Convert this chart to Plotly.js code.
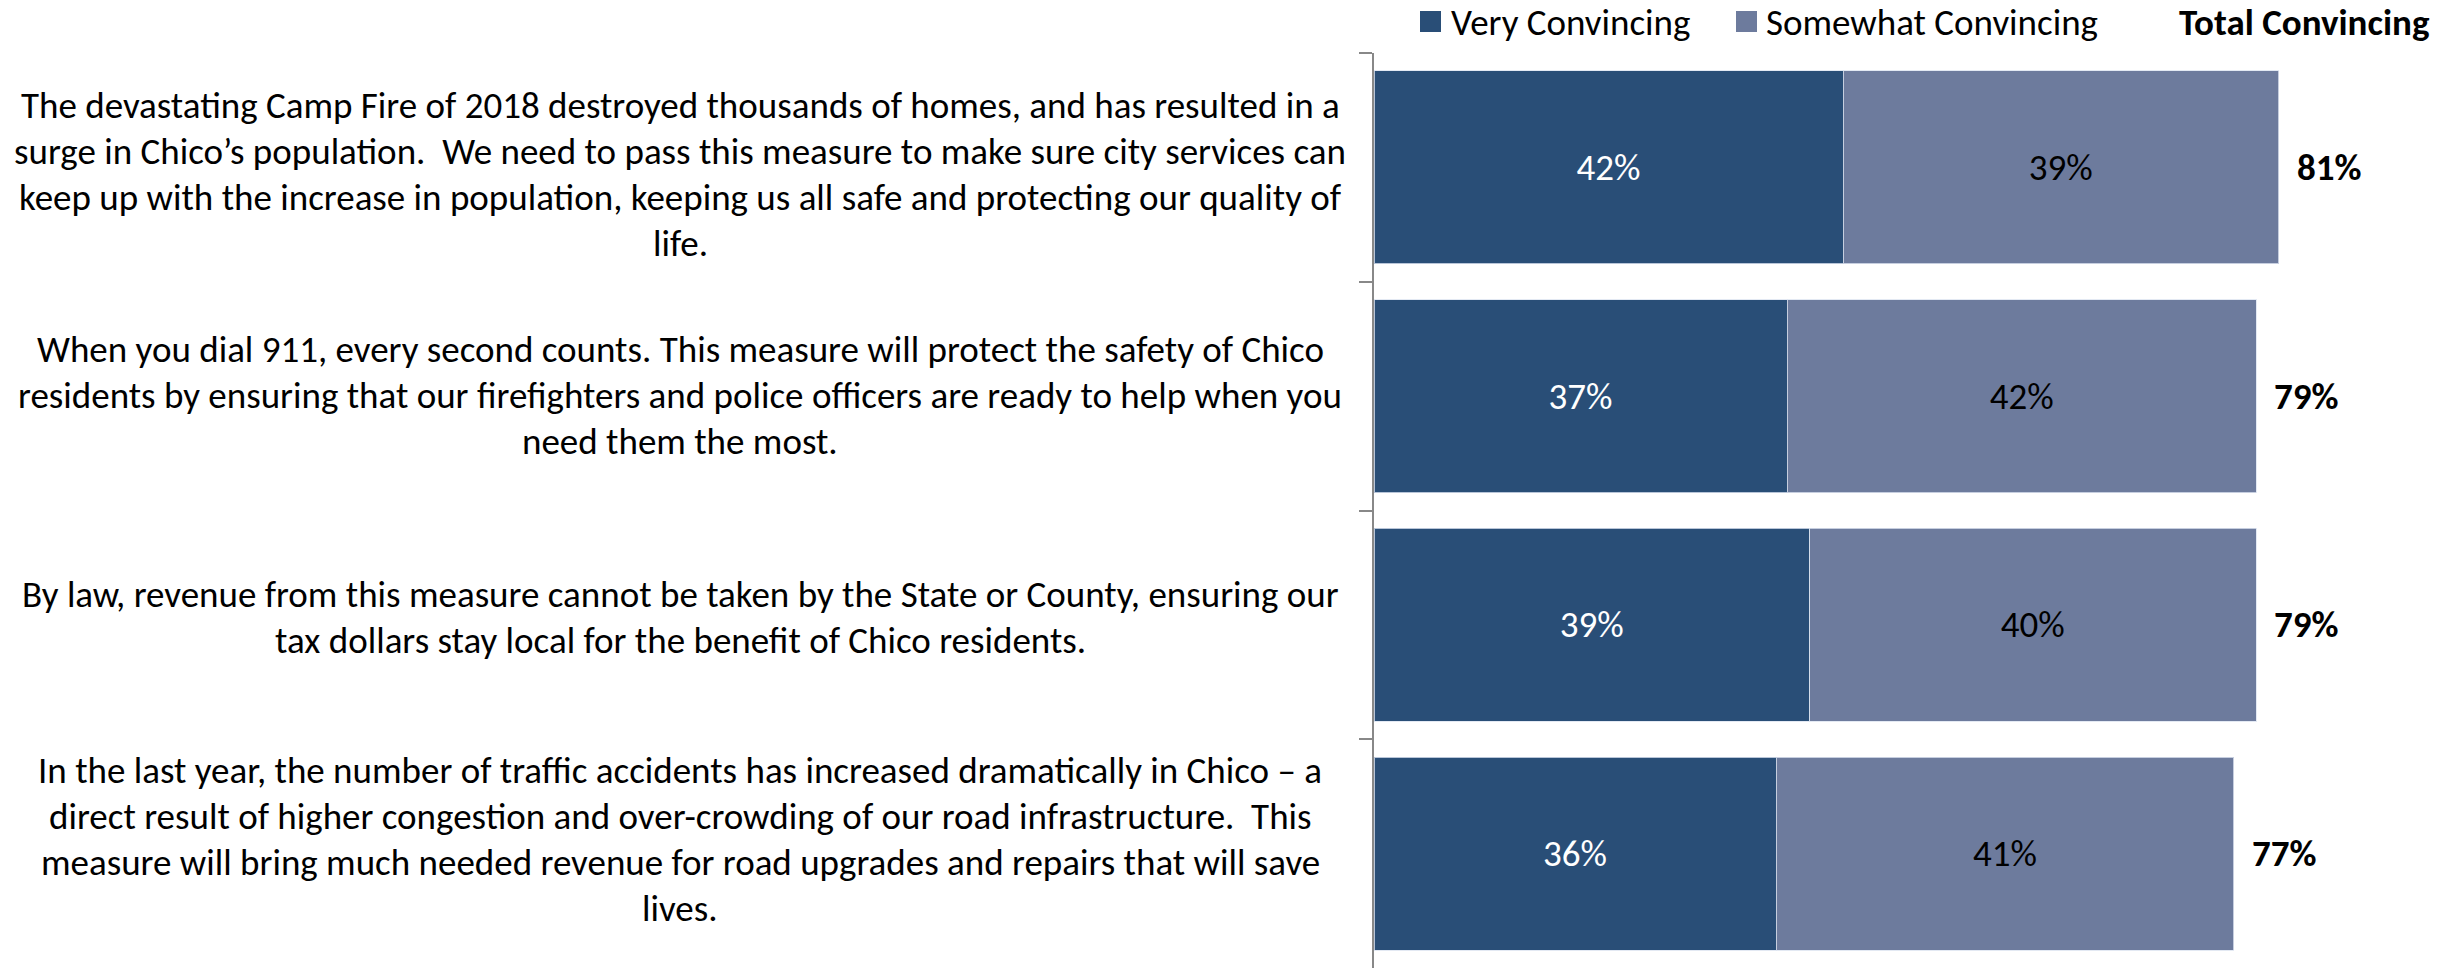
<!DOCTYPE html>
<html>
<head>
<meta charset="utf-8">
<script src="https://cdn.plot.ly/plotly-3.0.1.min.js"></script>
<style>html,body{margin:0;padding:0;background:#fff;}#chart{width:2458px;height:969px;}</style>
</head>
<body>
<div id="chart"></div>
<script>
const statements = [
  "The devastating Camp Fire of 2018 destroyed thousands of homes, and has resulted in a<br>surge in Chico’s population.\u00a0 We need to pass this measure to make sure city services can<br>keep up with the increase in population, keeping us all safe and protecting our quality of<br>life.",
  "When you dial 911, every second counts. This measure will protect the safety of Chico<br>residents by ensuring that our firefighters and police officers are ready to help when you<br>need them the most.",
  "By law, revenue from this measure cannot be taken by the State or County, ensuring our<br>tax dollars stay local for the benefit of Chico residents.",
  "In the last year, the number of traffic accidents has increased dramatically in Chico – a<br>direct result of higher congestion and over-crowding of our road infrastructure.\u00a0 This<br>measure will bring much needed revenue for road upgrades and repairs that will save<br>lives."
];
const categories = ["S1", "S2", "S3", "S4"];
const veryConvincing = [42, 37, 39, 36];
const somewhatConvincing = [39, 42, 40, 41];
const totalConvincing = [81, 79, 79, 77];
const seriesNames = ["Very Convincing", "Somewhat Convincing"];
const totalHeader = "Total Convincing";

const FONT = "Carlito, 'Liberation Sans Narrow', 'DejaVu Sans Condensed', 'Open Sans', sans-serif";
const FS = 37;
const DARK = "#294e77";
const LIGHT = "#6d7b9d";

const pct = v => v + "%";

const traces = [
  {
    type: "bar", orientation: "h", name: seriesNames[0],
    y: categories, x: veryConvincing,
    text: veryConvincing.map(pct), textposition: "inside", insidetextanchor: "middle",
    textfont: {family: FONT, size: FS, color: "#ffffff"},
    marker: {color: DARK, line: {color: "rgba(220,228,240,0.8)", width: 1}},
    hoverinfo: "skip", showlegend: false, constraintext: "none"
  },
  {
    type: "bar", orientation: "h", name: seriesNames[1],
    y: categories, x: somewhatConvincing,
    text: somewhatConvincing.map(pct), textposition: "inside", insidetextanchor: "middle",
    textfont: {family: FONT, size: FS, color: "#000000"},
    marker: {color: LIGHT, line: {color: "rgba(220,228,240,0.8)", width: 1}},
    hoverinfo: "skip", showlegend: false, constraintext: "none"
  }
];

const L = 1374, R = 79, T = 53, B = 1, W = 2458, H = 969;
const pw = W - L - R, ph = H - T - B;
const px = x => (x - L) / pw;
const py = y => (H - B - y) / ph;

// layout of the statement text blocks (pixel offsets of each block from its bar centre)
const LINE_GAP = 46;
const BASELINE_TO_MID = 9.5;
const blockOffsets = [17, 8.5, 2, -5];

const annotations = [];
statements.forEach((s, i) => {
  const lines = s.split("<br>");
  const n = lines.length;
  lines.forEach((ln, j) => {
    const off = blockOffsets[i] + (j - (n - 1) / 2) * LINE_GAP - BASELINE_TO_MID;
    annotations.push({
      xref: "paper", yref: "y", x: px(680), y: categories[i], yshift: -off,
      text: ln, showarrow: false, xanchor: "center", yanchor: "middle", align: "center",
      font: {family: FONT, size: FS, color: "#000"}
    });
  });
  annotations.push({
    xref: "x", yref: "y", x: totalConvincing[i], y: categories[i],
    text: "<b>" + pct(totalConvincing[i]) + "</b>", showarrow: false,
    xanchor: "left", yanchor: "middle", xshift: 16,
    font: {family: FONT, size: FS, color: "#000"}
  });
});
// legend texts
const LEG_Y = 23;
annotations.push({xref: "paper", yref: "paper", x: px(1449), y: py(LEG_Y), text: seriesNames[0],
  showarrow: false, xanchor: "left", yanchor: "middle", font: {family: FONT, size: FS, color: "#000"}});
annotations.push({xref: "paper", yref: "paper", x: px(1764), y: py(LEG_Y), text: seriesNames[1],
  showarrow: false, xanchor: "left", yanchor: "middle", font: {family: FONT, size: FS, color: "#000"}});
annotations.push({xref: "paper", yref: "paper", x: px(2432), y: py(LEG_Y), text: "<b>" + totalHeader + "</b>",
  showarrow: false, xanchor: "right", yanchor: "middle", font: {family: FONT, size: FS, color: "#000"}});

const shapes = [
  {type: "rect", xref: "paper", yref: "paper", x0: px(1420), x1: px(1441), y0: py(32), y1: py(11),
   fillcolor: DARK, line: {width: 0}},
  {type: "rect", xref: "paper", yref: "paper", x0: px(1736), x1: px(1757), y0: py(32), y1: py(11),
   fillcolor: LIGHT, line: {width: 0}}
];

const layout = {
  width: W, height: H,
  margin: {l: L, r: R, t: T, b: B, pad: 0},
  barmode: "stack", bargap: 0.156,
  paper_bgcolor: "#fff", plot_bgcolor: "#fff",
  showlegend: false,
  xaxis: {range: [0, 90], visible: false, fixedrange: true},
  yaxis: {
    type: "category", categoryorder: "array", categoryarray: categories,
    autorange: "reversed", showticklabels: false, showgrid: false, zeroline: false,
    showline: true, linecolor: "#888888", linewidth: 2,
    ticks: "outside", tickson: "boundaries", ticklen: 13, tickcolor: "#888888", tickwidth: 2
  },
  annotations: annotations,
  shapes: shapes,
  font: {family: FONT}
};

Plotly.newPlot("chart", traces, layout, {displayModeBar: false, staticPlot: true});
</script>
</body>
</html>
